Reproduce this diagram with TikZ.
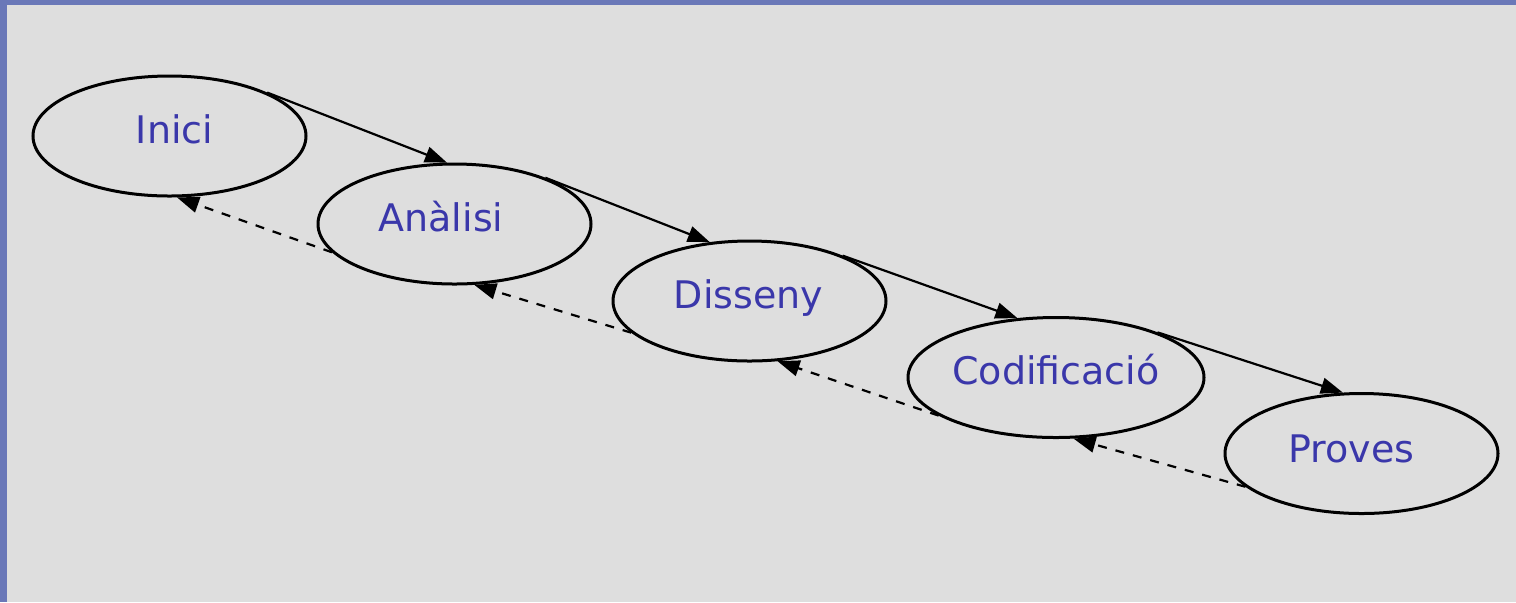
\documentclass[tikz,border=0pt]{standalone}
\usepackage{fontspec}
\setmainfont{DejaVu Sans}
\usetikzlibrary{arrows.meta,shapes.geometric}
\definecolor{bg}{HTML}{DEDEDE}
\definecolor{edge}{HTML}{6A78B8}
\definecolor{lbl}{HTML}{3A37AA}

\begin{document}
\begin{tikzpicture}[x=0.5pt,y=-0.5pt,
  phase/.style={draw=black, line width=1.5pt, ellipse, inner sep=0pt,
                minimum width=136.5pt, minimum height=60pt},
  caption/.style={text=lbl, font=\fontsize{19}{23}\selectfont, anchor=base, inner sep=0pt},
  fwd/.style={line width=1.1pt, -{Triangle[length=11pt,width=8pt]}},
  back/.style={fwd, dash pattern=on 4.5pt off 4.5pt}]

% canvas and frame bands
\useasboundingbox (0,0) rectangle (1516,602);
\fill[bg] (0,0) rectangle (1516,602);
\fill[edge] (0,0) rectangle (1516,5);
\fill[edge] (0,0) rectangle (7,602);

% phases
\node[phase] (inici)   at (169.5,136) {};
\node[phase] (analisi) at (454.5,224) {};
\node[phase] (disseny) at (749.5,301) {};
\node[phase, minimum width=148pt] (codif) at (1056,377.5) {};
\node[phase] (proves)  at (1361.5,453.5) {};

% phase names
\node[caption] (tinici)   at (174.5,143) {Inici};
\node[caption] (tanalisi) at (441,231) {Anàlisi};
\node[caption] (tdisseny) at (748.5,308) {Disseny};
\node[caption] (tcodif)   at (1056,384) {Codificació};
\node[caption] (tproves)  at (1351.5,462) {Proves};

% forward flow
\draw[fwd] (inici.24)   -- (analisi.97);
\draw[fwd] (analisi.27) -- (disseny.124);
\draw[fwd] (disseny.26) -- (codif.123);
\draw[fwd] (codif.24)   -- (proves.107);

% feedback
\draw[back] (analisi.193) -- (inici.277);
\draw[back] (disseny.195) -- (analisi.288);
\draw[back] (codif.198)   -- (disseny.295);
\draw[back] (proves.196)  -- (codif.286);
\end{tikzpicture}
\end{document}
